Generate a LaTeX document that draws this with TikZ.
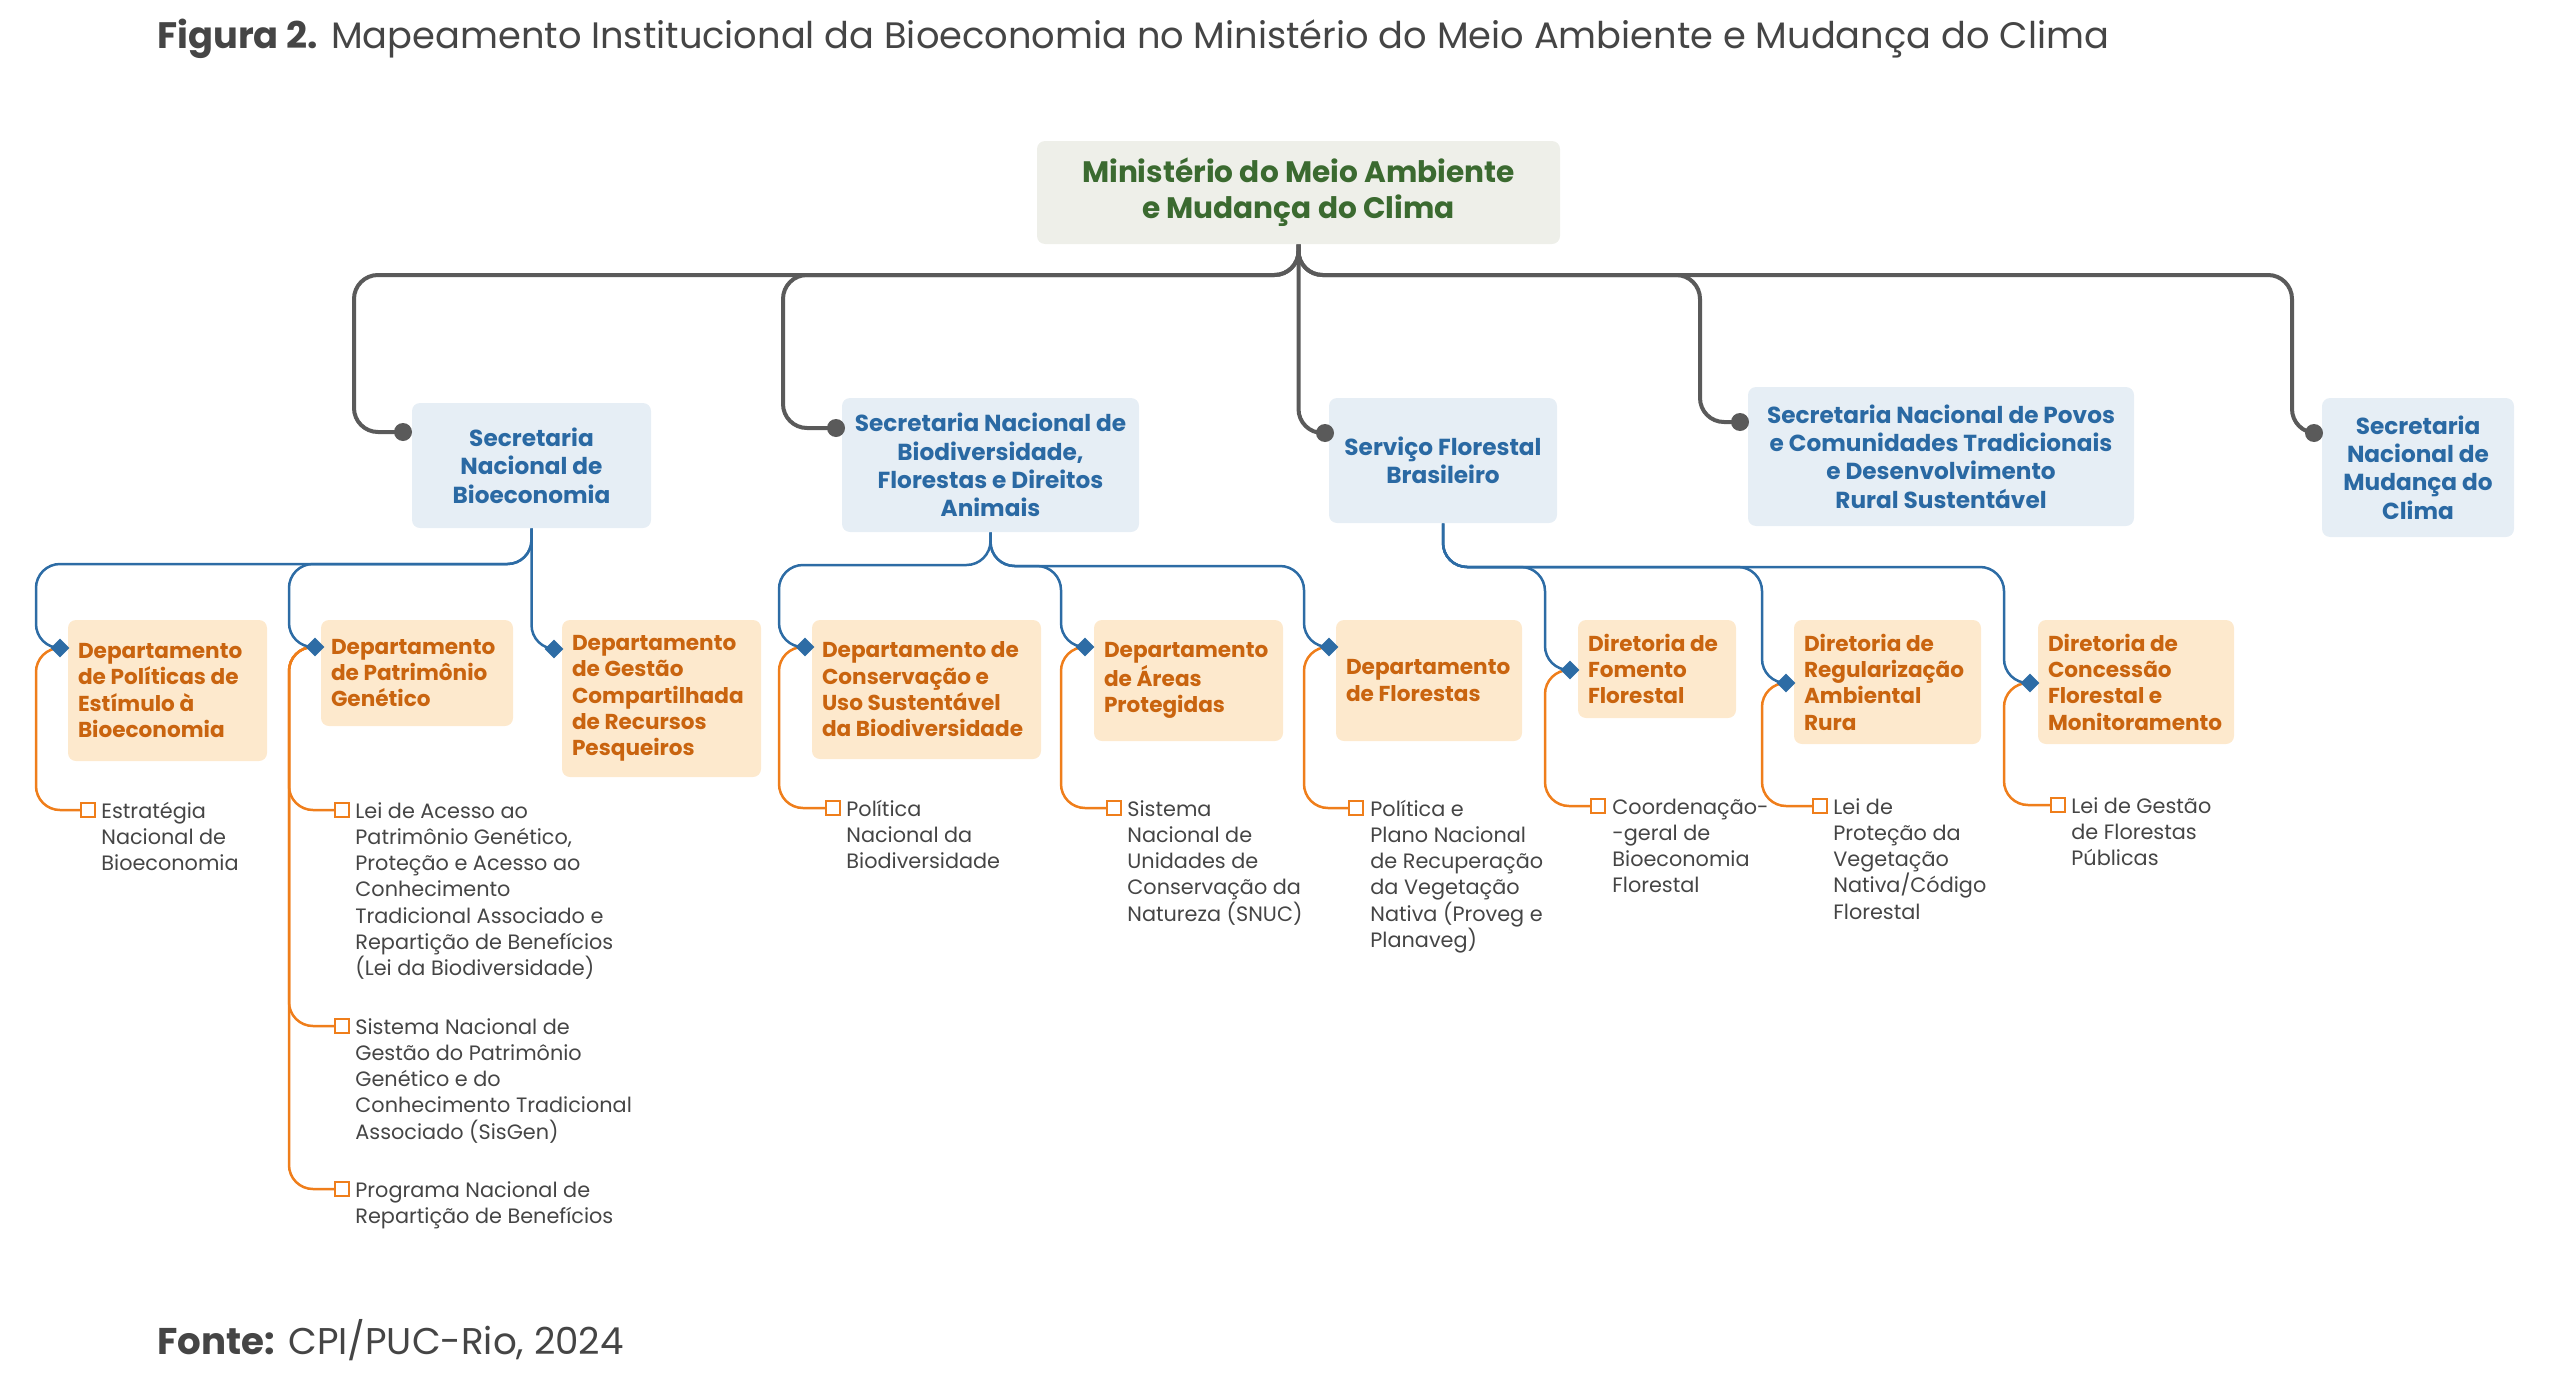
\documentclass[tikz,border=0pt]{standalone}
\usepackage{fontspec}
\setmainfont{Poppins}
\usetikzlibrary{shapes.geometric,backgrounds}
\definecolor{titlegray}{HTML}{454545}
\definecolor{mingreen}{HTML}{3B6A30}
\definecolor{minfill}{HTML}{EEEFE9}
\definecolor{secblue}{HTML}{2A69A3}
\definecolor{secfill}{HTML}{E6EEF5}
\definecolor{linegray}{HTML}{5A5A5A}
\definecolor{linkblue}{HTML}{2D6CA5}
\definecolor{deptfill}{HTML}{FDE9CD}
\definecolor{deptorange}{HTML}{C9640F}
\definecolor{linkorange}{HTML}{EF7E1B}
\definecolor{itemgray}{HTML}{454545}
\tikzset{
  minbox/.style={fill=minfill, rounded corners=4pt, inner sep=0, text=mingreen, align=center,
    font=\bfseries\fontsize{14.8}{18}\selectfont},
  secbox/.style={fill=secfill, rounded corners=4pt, inner sep=0, text=secblue, align=center,
    font=\bfseries\fontsize{11.6}{14.2}\selectfont},
  deptbox/.style={fill=deptfill, rounded corners=4pt, inner sep=0},
  depttext/.style={anchor=west, inner sep=0, text=deptorange, align=left,
    font=\bfseries\fontsize{10.8}{13.15}\selectfont},
  itemtext/.style={anchor=base west, inner sep=0, text=itemgray,
    font=\fontsize{10.4}{13.15}\selectfont},
  graylink/.style={draw=linegray, line width=2pt, rounded corners=12pt},
  bluelink/.style={draw=linkblue, line width=1.25pt, rounded corners=12pt},
  orangelink/.style={draw=linkorange, line width=1.25pt, rounded corners=12pt},
  gdot/.style={circle, fill=linegray, minimum size=9pt, inner sep=0},
  bdia/.style={diamond, fill=linkblue, minimum width=9.5pt, minimum height=9.5pt, inner sep=0},
  osq/.style={rectangle, draw=linkorange, fill=white, line width=1.2pt, minimum size=6.8pt, inner sep=0},
}
\newcommand{\itm}[1]{\parbox[t]{200pt}{\raggedright #1}}
\begin{document}
\begin{tikzpicture}[x=0.5pt,y=-0.5pt]
\useasboundingbox (0,0) rectangle (2560,1392);
% title and source
\node[anchor=west, inner sep=0, text=titlegray, font=\fontsize{18.4}{22}\selectfont] (title) at (157,39)
  {\textbf{Figura 2.} Mapeamento Institucional da Bioeconomia no Ministério do Meio Ambiente e Mudança do Clima};
\node[anchor=west, inner sep=0, text=titlegray, font=\fontsize{18.6}{23}\selectfont] (fonte) at (157,1340)
  {\textbf{Fonte:} CPI/PUC-Rio, 2024};

% ministry
\node[minbox, minimum width=261.5pt, minimum height=51.5pt] (min) at (1298.5,192.5)
  {Ministério do Meio Ambiente\\e Mudança do Clima};

% secretarias
\node[secbox, minimum width=119.5pt, minimum height=62.5pt] (s1) at (531.5,465.5) {Secretaria\\Nacional de\\Bioeconomia};
\node[secbox, minimum width=148.5pt, minimum height=67pt] (s2) at (990.5,465) {Secretaria Nacional de\\Biodiversidade,\\Florestas e Direitos\\Animais};
\node[secbox, minimum width=114pt, minimum height=62.5pt] (s3) at (1443,460.5) {Serviço Florestal\\Brasileiro};
\node[secbox, minimum width=193pt, minimum height=69.5pt] (s4) at (1941,456.5) {Secretaria Nacional de Povos\\e Comunidades Tradicionais\\e Desenvolvimento\\Rural Sustentável};
\node[secbox, minimum width=96pt, minimum height=69.5pt] (s5) at (2418,467.5) {Secretaria\\Nacional de\\Mudança do\\Clima};

% dots
\node[gdot] (g1) at (403,432) {};
\node[gdot] (g2) at (836,428) {};
\node[gdot] (g3) at (1325,433) {};
\node[gdot] (g4) at (1740,422) {};
\node[gdot] (g5) at (2314,433) {};

% departments
\node[deptbox, minimum width=99.5pt, minimum height=70.5pt] (d1) at (167.5,690.5) {};
\node[depttext] (d1t) at ([xshift=5pt]d1.west) {Departamento\\de Políticas de\\Estímulo à\\Bioeconomia};
\node[deptbox, minimum width=96pt, minimum height=53pt] (d2) at (417,673) {};
\node[depttext] (d2t) at ([xshift=5pt]d2.west) {Departamento\\de Patrimônio\\Genético};
\node[deptbox, minimum width=99.5pt, minimum height=78.5pt] (d3) at (661.5,698.5) {};
\node[depttext] (d3t) at ([xshift=5pt]d3.west) {Departamento\\de Gestão\\Compartilhada\\de Recursos\\Pesqueiros};
\node[deptbox, minimum width=114.5pt, minimum height=69.5pt] (d4) at (926.5,689.5) {};
\node[depttext] (d4t) at ([xshift=5pt]d4.west) {Departamento de\\Conservação e\\Uso Sustentável\\da Biodiversidade};
\node[deptbox, minimum width=94.5pt, minimum height=60.5pt] (d5) at (1188.5,680.5) {};
\node[depttext] (d5t) at ([xshift=5pt]d5.west) {Departamento\\de Áreas\\Protegidas};
\node[deptbox, minimum width=93pt, minimum height=60.5pt] (d6) at (1429,680.5) {};
\node[depttext] (d6t) at ([xshift=5pt]d6.west) {Departamento\\de Florestas};
\node[deptbox, minimum width=79pt, minimum height=49pt] (d7) at (1657,669) {};
\node[depttext] (d7t) at ([xshift=5pt]d7.west) {Diretoria de\\Fomento\\Florestal};
\node[deptbox, minimum width=93.5pt, minimum height=62pt] (d8) at (1887.5,682) {};
\node[depttext] (d8t) at ([xshift=5pt]d8.west) {Diretoria de\\Regularização\\Ambiental\\Rura};
\node[deptbox, minimum width=98pt, minimum height=62pt] (d9) at (2136,682) {};
\node[depttext] (d9t) at ([xshift=5pt]d9.west) {Diretoria de\\Concessão\\Florestal e\\Monitoramento};

% diamonds
\node[bdia] (b1) at (60,648) {};
\node[bdia] (b2) at (315,647) {};
\node[bdia] (b3) at (554,649) {};
\node[bdia] (b4) at (805,647) {};
\node[bdia] (b5) at (1085,647) {};
\node[bdia] (b6) at (1329,647) {};
\node[bdia] (b7) at (1570,670) {};
\node[bdia] (b8) at (1786,683) {};
\node[bdia] (b9) at (2030,683) {};

% item squares
\node[osq] (q1) at (88,810) {};
\node[osq] (q2a) at (342,810) {};
\node[osq] (q2b) at (342,1026) {};
\node[osq] (q2c) at (342,1189) {};
\node[osq] (q4) at (833,808) {};
\node[osq] (q5) at (1114,808) {};
\node[osq] (q6) at (1356,808) {};
\node[osq] (q7) at (1598,806) {};
\node[osq] (q8) at (1820,806) {};
\node[osq] (q9) at (2058,805) {};

% item texts
\node[itemtext] (t1) at (101,818) {\itm{Estratégia\\Nacional de\\Bioeconomia}};
\node[itemtext] (t2a) at (355,818) {\itm{Lei de Acesso ao\\Patrimônio Genético,\\Proteção e Acesso ao\\Conhecimento\\Tradicional Associado e\\Repartição de Benefícios\\(Lei da Biodiversidade)}};
\node[itemtext] (t2b) at (355,1034) {\itm{Sistema Nacional de\\Gestão do Patrimônio\\Genético e do\\Conhecimento Tradicional\\Associado (SisGen)}};
\node[itemtext] (t2c) at (355,1197) {\itm{Programa Nacional de\\Repartição de Benefícios}};
\node[itemtext] (t4) at (846,816) {\itm{Política\\Nacional da\\Biodiversidade}};
\node[itemtext] (t5) at (1127,816) {\itm{Sistema\\Nacional de\\Unidades de\\Conservação da\\Natureza (SNUC)}};
\node[itemtext] (t6) at (1370,816) {\itm{Política e\\Plano Nacional\\de Recuperação\\da Vegetação\\Nativa (Proveg e\\Planaveg)}};
\node[itemtext] (t7) at (1612,814) {\itm{Coordenação-\\-geral de\\Bioeconomia\\Florestal}};
\node[itemtext] (t8) at (1833,814) {\itm{Lei de\\Proteção da\\Vegetação\\Nativa/Código\\Florestal}};
\node[itemtext] (t9) at (2071,813) {\itm{Lei de Gestão\\de Florestas\\Públicas}};

\begin{scope}[on background layer]
% gray tree
\draw[graylink] (min.south) -- (1298.5,275) -- (354,275) -- (354,432) -- (g1.center);
\draw[graylink] (min.south) -- (1298.5,275) -- (783,275) -- (783,428) -- (g2.center);
\draw[graylink] (min.south) -- (1298.5,433) -- (g3.center);
\draw[graylink] (min.south) -- (1298.5,275) -- (1700,275) -- (1700,422) -- (g4.center);
\draw[graylink] (min.south) -- (1298.5,275) -- (2292,275) -- (2292,433) -- (g5.center);
% blue links
\draw[bluelink] (s1.south) -- (531.5,564) -- (36,564) -- (36,648) -- (b1.center);
\draw[bluelink] (s1.south) -- (531.5,564) -- (289,564) -- (289,647) -- (b2.center);
\draw[bluelink] (s1.south) -- (531.5,649) -- (b3.center);
\draw[bluelink] (s2.south) -- (990.5,565) -- (779,565) -- (779,647) -- (b4.center);
\draw[bluelink] (s2.south) -- (990.5,566) -- (1061,566) -- (1061,647) -- (b5.center);
\draw[bluelink] (s2.south) -- (990.5,566) -- (1304,566) -- (1304,647) -- (b6.center);
\draw[bluelink] (s3.south) -- (1443,567) -- (1545,567) -- (1545,670) -- (b7.center);
\draw[bluelink] (s3.south) -- (1443,567) -- (1762,567) -- (1762,683) -- (b8.center);
\draw[bluelink] (s3.south) -- (1443,567) -- (2004,567) -- (2004,683) -- (b9.center);
% orange links
\draw[orangelink] (b1.center) -- (36,648) -- (36,810) -- (q1.west);
\draw[orangelink] (b2.center) -- (289,647) -- (289,810) -- (q2a.west);
\draw[orangelink] (b2.center) -- (289,647) -- (289,1026) -- (q2b.west);
\draw[orangelink] (b2.center) -- (289,647) -- (289,1189) -- (q2c.west);
\draw[orangelink] (b4.center) -- (779,647) -- (779,808) -- (q4.west);
\draw[orangelink] (b5.center) -- (1061,647) -- (1061,808) -- (q5.west);
\draw[orangelink] (b6.center) -- (1304,647) -- (1304,808) -- (q6.west);
\draw[orangelink] (b7.center) -- (1545,670) -- (1545,806) -- (q7.west);
\draw[orangelink] (b8.center) -- (1762,683) -- (1762,806) -- (q8.west);
\draw[orangelink] (b9.center) -- (2004,683) -- (2004,805) -- (q9.west);
\end{scope}
\end{tikzpicture}
\end{document}
